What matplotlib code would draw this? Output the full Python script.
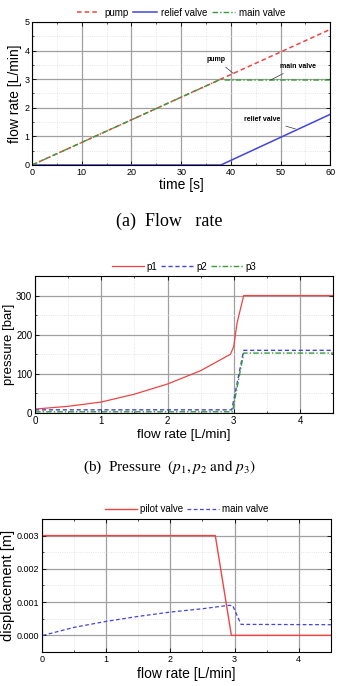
import matplotlib.pyplot as plt
from matplotlib.ticker import MultipleLocator

plt.rcParams['font.family'] = ['Liberation Sans', 'DejaVu Sans']
plt.rcParams['mathtext.fontset'] = 'stix'
plt.rcParams['xtick.direction'] = 'in'
plt.rcParams['ytick.direction'] = 'in'
plt.rcParams['xtick.top'] = True
plt.rcParams['ytick.right'] = True

RED = '#ee4444'
BLUE = '#4444dd'
GREEN = '#3a9a3a'

# (a) flow rate vs time
t_pump = [0, 60]
q_pump = [0, 4.74]
t_relief = [0, 38, 60]
q_relief = [0, 0, 1.77]
t_main = [0, 38, 39, 60]
q_main = [0, 3.0, 2.97, 2.97]

# (b) pressure vs flow rate
q_p1 = [0, 0.5, 1.0, 1.5, 2.0, 2.5, 2.95, 3.0, 3.05, 3.15, 4.5]
p1 = [10, 17, 28, 48, 74, 108, 150, 170, 230, 300, 300]
q_p2 = [0, 2.97, 3.15, 4.5]
p2 = [8, 8, 160, 160]
q_p3 = [0, 2.98, 3.15, 4.5]
p3 = [3, 3, 153, 153]

# (c) displacement vs flow rate
q_pilot = [0, 0, 2.7, 2.95, 4.5]
x_pilot = [0.0, 0.003, 0.003, 0.0, 0.0]
q_mainv = [0, 0.02, 0.5, 1.0, 1.5, 2.0, 2.5, 2.9, 2.97, 3.1, 4.5]
x_mainv = [0.0002, 0.0, 0.00024, 0.00042, 0.00057, 0.0007, 0.0008, 0.0009, 0.0009, 0.00033, 0.00032]

fig = plt.figure(figsize=(3.38, 6.86), dpi=100)


def style(ax, xmaj, xmin, ymaj, ymin, fs):
    ax.xaxis.set_major_locator(MultipleLocator(xmaj))
    ax.xaxis.set_minor_locator(MultipleLocator(xmin))
    ax.yaxis.set_major_locator(MultipleLocator(ymaj))
    ax.yaxis.set_minor_locator(MultipleLocator(ymin))
    ax.grid(which='major', color='#a0a0a0', lw=0.9)
    ax.grid(which='minor', color='#dddddd', lw=0.6, ls=':')
    ax.tick_params(which='major', length=3, width=0.6, labelsize=fs, pad=2)
    ax.tick_params(which='minor', length=1.5, width=0.5)
    for s in ax.spines.values():
        s.set_linewidth(0.8)
    ax.set_axisbelow(True)


# ---- (a)
ax1 = fig.add_axes([0.095, 0.7595, 0.882, 0.2085])
ax1.plot(t_pump, q_pump, ls=(0, (3, 2)), color=RED, lw=1.1, label='pump')
ax1.plot(t_relief, q_relief, color=BLUE, lw=1.1, label='relief valve')
ax1.plot(t_main, q_main, ls=(0, (4, 1.5, 1, 1.5)), color=GREEN, lw=1.0, label='main valve')
ax1.set_xlim(0, 60)
ax1.set_ylim(0, 5)
style(ax1, 10, 5, 1, 0.5, 6.5)
ax1.set_xlabel('time [s]', fontsize=10, labelpad=1)
ax1.set_ylabel('flow rate [L/min]', fontsize=10, labelpad=2)
ax1.legend(loc='lower center', bbox_to_anchor=(0.5, 0.99), ncol=3, frameon=False,
           fontsize=7, handlelength=2.4, columnspacing=0.5, handletextpad=0.4, borderpad=0.1)
for txt, xy, xyt in [('pump', (40.5, 3.2), (37, 3.7)),
                     ('main valve', (48, 2.97), (53.5, 3.46)),
                     ('relief valve', (53, 1.26), (46.3, 1.6))]:
    ax1.annotate(txt, xy=xy, xytext=xyt, fontsize=5, fontweight='bold', ha='center', va='center',
                 arrowprops=dict(arrowstyle='-', color='#333333', lw=0.5, shrinkA=2, shrinkB=0))
fig.text(0.5, 1 - 221 / 686, '(a)  Flow   rate', ha='center', va='center',
         fontsize=13, family='Liberation Serif')

# ---- (b)
ax2 = fig.add_axes([0.1036, 0.398, 0.882, 0.1997])
ax2.plot(q_p1, p1, color=RED, lw=0.9, label='p1')
ax2.plot(q_p2, p2, ls=(0, (3, 2)), color=BLUE, lw=1.0, label='p2')
ax2.plot(q_p3, p3, ls=(0, (4, 1.5, 1, 1.5)), color=GREEN, lw=1.0, label='p3')
ax2.set_xlim(0, 4.5)
ax2.set_ylim(0, 350)
style(ax2, 1, 0.5, 100, 50, 7)
ax2.set_xlabel('flow rate [L/min]', fontsize=9.5, labelpad=2)
ax2.set_ylabel('pressure [bar]', fontsize=9.5, labelpad=1)
ax2.legend(loc='lower center', bbox_to_anchor=(0.5, 0.99), ncol=3, frameon=False,
           fontsize=7, handlelength=3.3, columnspacing=0.4, handletextpad=0.3, borderpad=0.1)
fig.text(0.5, 1 - 467 / 686, r'(b)  Pressure  $(p_1, p_2\ \mathrm{and}\ p_3)$', ha='center',
         va='center', fontsize=11, family='Liberation Serif')

# ---- (c)
ax3 = fig.add_axes([0.124, 0.0496, 0.855, 0.1939])
ax3.plot(q_pilot, x_pilot, color=RED, lw=1.0, label='pilot valve')
ax3.plot(q_mainv, x_mainv, ls=(0, (3, 2)), color=BLUE, lw=0.9, label='main valve')
ax3.set_xlim(0, 4.5)
ax3.set_ylim(-0.0005, 0.0035)
style(ax3, 1, 0.5, 0.001, 0.0005, 6.5)
ax3.yaxis.set_major_formatter(plt.FuncFormatter(lambda v, p: f'{v:.3f}'))
ax3.set_xlabel('flow rate [L/min]', fontsize=10, labelpad=2)
ax3.set_ylabel('displacement [m]', fontsize=10.5, labelpad=1)
ax3.legend(loc='lower center', bbox_to_anchor=(0.5, 0.99), ncol=2, frameon=False,
           fontsize=7, handlelength=3.3, columnspacing=0.4, handletextpad=0.3, borderpad=0.1)

fig.savefig('out.png', dpi=100)
